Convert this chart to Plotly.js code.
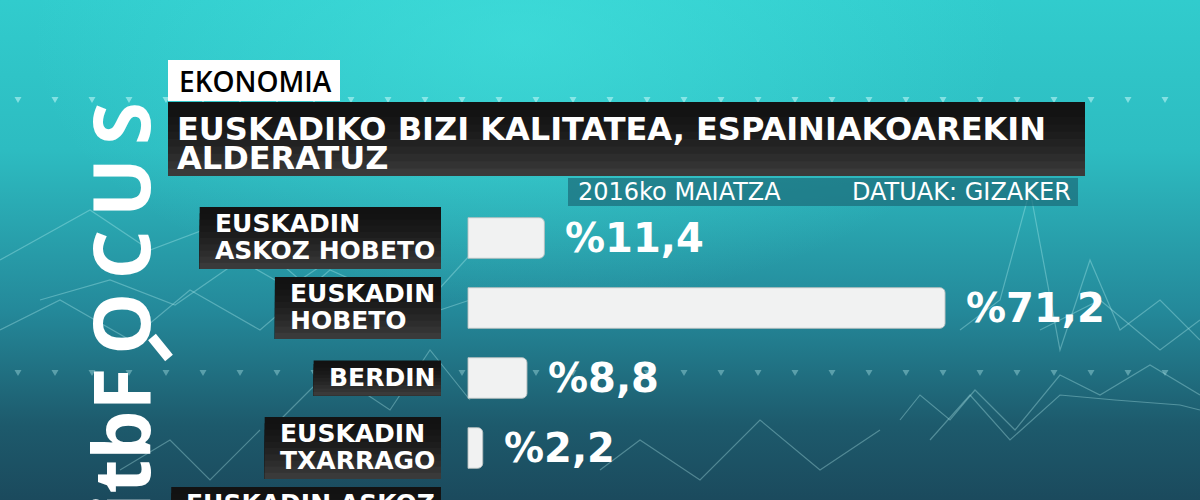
<!DOCTYPE html>
<html>
<head>
<meta charset="utf-8">
<script src="https://cdn.plot.ly/plotly-3.0.1.min.js"></script>
<style>
html, body { margin:0; padding:0; width:1200px; height:500px; overflow:hidden; }
body {
  background:
    radial-gradient(ellipse 700px 380px at 520px 40px, rgba(70,230,225,0.55), rgba(70,230,225,0) 70%),
    linear-gradient(180deg, #31cccd 0%, #2dbcc1 30%, #24899a 62%, #1d5a6c 85%, #1b4a5d 100%);
}
#chart { width:1200px; height:560px; }
</style>
</head>
<body>
<div id="chart"></div>
<script>
// ---- data ----
var categories = ["EUSKADIN<br>ASKOZ HOBETO", "EUSKADIN<br>HOBETO", "BERDIN", "EUSKADIN<br>TXARRAGO", "EUSKADIN ASKOZ<br>TXARRAGO"];
var values = [11.4, 71.2, 8.8, 2.2, null];
var kicker = "EKONOMIA";
var titleLines = ["EUSKADIKO BIZI KALITATEA, ESPAINIAKOAREKIN", "ALDERATUZ"];
var dateText = "2016ko MAIATZA";
var sourceText = "DATUAK: GIZAKER";
var logoText = "eitbF\u2009O\u2009C\u2009U\u2009S";

// ---- geometry helpers (figure is 1200 x 560, visible 500) ----
var W = 1200, H = 560;
var PXU = 70;               // pixels per category step
function px(x) { return x / W; }
function py(y) { return 1 - y / H; }
var FONT = "Open Sans, Lato, sans-serif";
var WIDE = "DejaVu Sans, Verdana, sans-serif";
var LABEL_SIZE = 25;

var ids = categories.map(function (c, i) { return i; });

var trace = {
  type: "bar",
  orientation: "h",
  y: ids,
  x: values,
  width: 0.58,
  marker: { color: "#f1f2f2", line: { color: "rgba(185,192,192,0.9)", width: 1 }, cornerradius: 5 },
  hoverinfo: "skip",
  cliponaxis: true
};

var shapes = [];
// dotted triangle rows (decoration)
[[100, 0.55], [373, 0.35]].forEach(function (row) {
  for (var x = 18; x < W; x += 37) {
    var y = row[0];
    shapes.push({ type: "path", xref: "paper", yref: "paper", layer: "below",
      path: "M" + px(x - 3.5) + "," + py(y - 3) + " L" + px(x + 3.5) + "," + py(y - 3) + " L" + px(x) + "," + py(y + 3) + " Z",
      fillcolor: "rgba(200,250,250," + row[1] + ")", line: { width: 0 } });
  }
});
// faint network lines (decoration)
var decor = [
  [[0,330],[60,300],[130,340],[190,290],[260,330],[330,270],[420,310],[470,255]],
  [[0,260],[90,210],[150,250],[230,220],[300,280],[360,240]],
  [[40,300],[110,280],[175,305],[240,260],[310,300],[380,330],[470,300]],
  [[280,420],[330,370],[390,410],[430,350],[470,400]],
  [[900,420],[920,395],[950,420],[975,390],[1015,430],[1060,375],[1100,395],[1150,365],[1200,395]],
  [[930,440],[970,395],[1010,440],[1060,395],[1115,400],[1180,405],[1200,410]],
  [[960,330],[1000,300],[1030,190],[1060,350],[1090,260],[1120,330],[1160,300],[1200,340]],
  [[1040,330],[1100,300],[1160,350],[1200,320]],
  [[600,470],[640,440],[700,480],[760,420],[820,470],[880,430]],
  [[120,470],[170,440],[210,480],[260,430]]
];
decor.forEach(function (pl) {
  var d = pl.map(function (p, k) { return (k ? "L" : "M") + px(p[0]) + "," + py(p[1]); }).join(" ");
  shapes.push({ type: "path", xref: "paper", yref: "paper", layer: "below", path: d,
    line: { color: "rgba(190,245,245,0.33)", width: 1.2 } });
});
// magnifier handle of the logo (decoration)
shapes.push({ type: "line", xref: "paper", yref: "paper", layer: "below",
  x0: px(152), y0: py(337), x1: px(169), y1: py(358), line: { color: "#ffffff", width: 10 } });

// kicker box
shapes.push({ type: "rect", xref: "paper", yref: "paper", layer: "below",
  x0: px(168), x1: px(340), y0: py(101), y1: py(60), fillcolor: "#ffffff", line: { width: 0 } });

// dark box with vertical gradient, built from overlapping strips
function darkBox(x0, x1, yref, yTop, yBot, conv) {
  var steps = 10;
  for (var s = 0; s < steps; s++) {
    var a = yTop + (yBot - yTop) * s / steps;
    var f = s / (steps - 1);
    var g = Math.round(18 + 40 * Math.pow(f, 1.6));
    shapes.push({ type: "rect", xref: "paper", yref: yref, layer: "below",
      x0: px(x0), x1: px(x1), y0: conv(yBot), y1: conv(a),
      fillcolor: "rgb(" + g + "," + g + "," + g + ")", line: { width: 0 } });
  }
}
darkBox(168, 1085, "paper", 102, 176, py);

// subtitle band
shapes.push({ type: "rect", xref: "paper", yref: "paper", layer: "below",
  x0: px(568), x1: px(1078), y0: py(206), y1: py(178), fillcolor: "rgba(28,108,122,0.72)", line: { width: 0 } });

var annotations = [];
annotations.push({ xref: "paper", yref: "paper", x: px(177), y: py(81), xanchor: "left", yanchor: "middle",
  text: kicker, showarrow: false, font: { family: FONT, size: 28, color: "#000", weight: 600 } });
annotations.push({ xref: "paper", yref: "paper", x: px(175), y: py(129), xanchor: "left", yanchor: "middle",
  text: titleLines[0], showarrow: false, font: { family: WIDE, size: 32, color: "#fff", weight: 700 } });
annotations.push({ xref: "paper", yref: "paper", x: px(175), y: py(158), xanchor: "left", yanchor: "middle",
  text: titleLines[1], showarrow: false, font: { family: WIDE, size: 32, color: "#fff", weight: 700 } });
annotations.push({ xref: "paper", yref: "paper", x: px(576), y: py(192), xanchor: "left", yanchor: "middle",
  text: dateText, showarrow: false, font: { family: WIDE, size: 24, color: "#fff" } });
annotations.push({ xref: "paper", yref: "paper", x: px(1073), y: py(192), xanchor: "right", yanchor: "middle",
  text: sourceText, showarrow: false, font: { family: WIDE, size: 24, color: "#fff" } });
// logo
annotations.push({ xref: "paper", yref: "paper", x: px(119), y: py(101), xanchor: "center", yanchor: "top",
  text: logoText, textangle: -90, showarrow: false, font: { family: FONT, size: 78, color: "#fff", weight: 700 } });

// measure label text widths to size the black boxes
var ctx = document.createElement("canvas").getContext("2d");
ctx.font = "bold " + LABEL_SIZE + "px 'DejaVu Sans'";
var BOX_RIGHT = 441, PAD_L = 13, PAD_R = 8, PITCH = 27;

categories.forEach(function (c, i) {
  var lines = c.split("<br>");
  var tw = Math.max.apply(null, lines.map(function (l) { return ctx.measureText(l).width; }));
  var left = BOX_RIGHT - PAD_R - tw - PAD_L;
  var half = lines.length > 1 ? 31 : 17.5;
  darkBox(left, BOX_RIGHT, "y", -half, half, function (v) { return ids[i] + v / PXU; });
  lines.forEach(function (l, k) {
    annotations.push({ xref: "paper", yref: "y", x: px(left + PAD_L), y: ids[i], xanchor: "left", yanchor: "middle",
      yshift: ((lines.length - 1) / 2 - k) * PITCH + 1,
      text: l, showarrow: false, font: { family: WIDE, size: LABEL_SIZE, color: "#fff", weight: 700 } });
  });
  if (values[i] !== null) {
    annotations.push({ xref: "x", yref: "y", x: values[i], y: ids[i], xanchor: "left", yanchor: "middle", xshift: 19,
      text: "%" + values[i].toFixed(1).replace(".", ","), showarrow: false,
      font: { family: WIDE, size: 40, color: "#fff", weight: 700 } });
  }
});

var layout = {
  width: W, height: H,
  margin: { l: 0, r: 0, t: 0, b: 0 },
  paper_bgcolor: "rgba(0,0,0,0)", plot_bgcolor: "rgba(0,0,0,0)",
  showlegend: false,
  xaxis: { domain: [0, 1], range: [-468 / 6.7, 732 / 6.7], visible: false, fixedrange: true },
  yaxis: { range: [(H - 238) / PXU, -238 / PXU], visible: false, fixedrange: true, type: "linear" },
  shapes: shapes,
  annotations: annotations
};

Plotly.newPlot("chart", [trace], layout, { displayModeBar: false, staticPlot: true });
</script>
</body>
</html>
